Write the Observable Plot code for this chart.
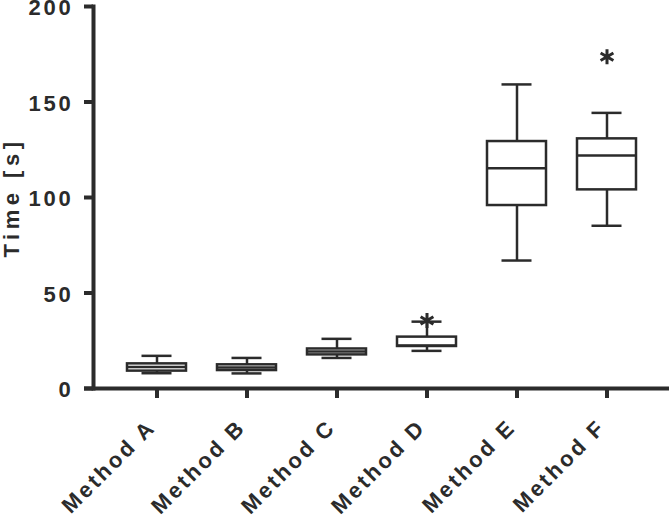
<!DOCTYPE html>
<html>
<head>
<meta charset="utf-8">
<script src="https://cdn.jsdelivr.net/npm/d3@7"></script>
<script src="https://cdn.jsdelivr.net/npm/@observablehq/plot@0.6"></script>
<style>
  html, body { margin: 0; padding: 0; background: #fff; }
  #chart text { font-family: "Liberation Sans", Arial, sans-serif; font-weight: bold; }
</style>
</head>
<body>
<div id="chart"></div>
<script>
const methods = ["Method A", "Method B", "Method C", "Method D", "Method E", "Method F"];
const whiskerLow  = [8.0, 7.9, 16.0, 19.7, 67.0, 85.2];
const q1          = [9.1, 9.4, 17.6, 22.0, 95.8, 104.0];
const median      = [11.2, 11.0, 19.4, 22.5, 115.3, 122.0];
const q3          = [12.9, 12.4, 20.7, 26.9, 129.3, 130.7];
const whiskerHigh = [17.1, 16.0, 26.0, 35.0, 159.2, 144.3];
const outlierMethod = ["Method D", "Method F"];
const outlierValue  = [35.6, 173.7];
const yTicks = [0, 50, 100, 150, 200];

const rows = methods.map((m, i) => ({
  method: m, lo: whiskerLow[i], q1: q1[i], med: median[i], q3: q3[i], hi: whiskerHigh[i]
}));
const outliers = outlierMethod.map((m, i) => ({method: m, value: outlierValue[i]}));

const ink = "#2b2b2b";

const chart = Plot.plot({
  width: 669,
  height: 519,
  marginTop: 6,
  marginBottom: 131,
  marginLeft: 93,
  marginRight: 0,
  x: {domain: methods, paddingInner: 0.35, paddingOuter: 0.357},
  y: {domain: [0, 200]},
  marks: [
    Plot.ruleX(rows, {x: "method", y1: "lo", y2: "hi", stroke: ink, strokeWidth: 2.5}),
    Plot.tickY(rows, {x: "method", y: "lo", stroke: ink, strokeWidth: 2.5, insetLeft: 14.5, insetRight: 14.5}),
    Plot.tickY(rows, {x: "method", y: "hi", stroke: ink, strokeWidth: 2.5, insetLeft: 14.5, insetRight: 14.5}),
    Plot.barY(rows, {x: "method", y1: "q1", y2: "q3", fill: "white", stroke: ink, strokeWidth: 2.5}),
    Plot.tickY(rows, {x: "method", y: "med", stroke: ink, strokeWidth: 2.5}),
    Plot.dot(outliers, {x: "method", y: "value", symbol: "asterisk", r: 7, stroke: ink, strokeWidth: 3}),
    Plot.frame({anchor: "left", stroke: ink, strokeWidth: 4}),
    Plot.ruleY([0], {stroke: ink, strokeWidth: 4, insetLeft: -9}),
    Plot.axisY({ticks: yTicks, tickSize: 9, tickPadding: 11, fontSize: 22, label: null, stroke: ink, strokeWidth: 4, fill: ink}),
    Plot.axisX({tickRotate: -45, tickSize: 10, tickPadding: 0, fontSize: 22, label: null, stroke: ink, strokeWidth: 4, fill: ink}),
    Plot.text(["Time [s]"], {frameAnchor: "left", textAnchor: "middle", rotate: -90, dx: -82, fontSize: 22, fill: ink})
  ]
});
const svg = d3.select(chart);
svg.selectAll("text").attr("letter-spacing", 2.8).style("font-size", "22px");
svg.selectAll("text").filter(function() { return this.textContent === "Time [s]"; })
  .style("font-size", "22px").attr("letter-spacing", 4.5);
// nudge rotated category labels down-left to sit like the reference
svg.selectAll("g[aria-label='x-axis tick label'] text").each(function() {
  const t = this.getAttribute("transform") || "";
  this.setAttribute("transform", "translate(-5,25) " + t);
});
// y tick labels sit slightly below the tick centre in the reference
svg.selectAll("g[aria-label='y-axis tick label'] text").each(function() {
  const t = this.getAttribute("transform") || "";
  this.setAttribute("transform", "translate(0,1.5) " + t);
});
document.getElementById("chart").appendChild(chart);
</script>
</body>
</html>
